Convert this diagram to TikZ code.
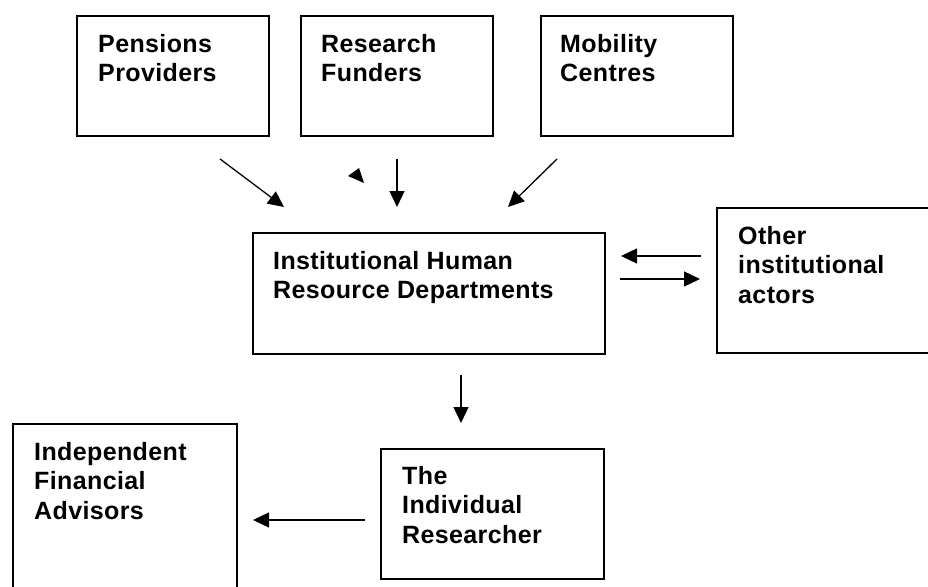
\documentclass[tikz,border=0pt]{standalone}
\usepackage{fontspec}
\setmainfont{Liberation Sans}
\newfontfamily\labelfont{Liberation Sans}[LetterSpace=1.5]
\usetikzlibrary{arrows.meta}
\begin{document}
\begin{tikzpicture}[x=1pt,y=-1pt,
  box/.style={draw, line width=1.6pt, inner sep=0pt, anchor=north west},
  lbl/.style={anchor=north west, inner sep=0pt, align=left,
              font=\labelfont\fontsize{25}{29.5}\selectfont\bfseries},
  link/.style={line width=1.3pt, -{Triangle[length=16pt,width=15pt]}}]
\path[use as bounding box, fill=white] (0,0) rectangle (928,586);
\clip (0,0) rectangle (928,586);

% top row of sources
\node[box, minimum width=192pt, minimum height=120pt] (pp) at (76,15) {};
\node[box, minimum width=192pt, minimum height=120pt] (rf) at (300,15) {};
\node[box, minimum width=192pt, minimum height=120pt] (mc) at (540,15) {};
\node[lbl] (ppt) at ([shift={(22,19)}]pp.north west) {Pensions\\Providers};
\node[lbl] (rft) at ([shift={(21,19)}]rf.north west) {Research\\Funders};
\node[lbl] (mct) at ([shift={(20,19)}]mc.north west) {Mobility\\Centres};

% central department and its partner
\node[box, minimum width=352pt, minimum height=121pt] (hr) at (252,232) {};
\node[lbl] (hrt) at ([shift={(21,19)}]hr.north west) {Institutional Human\\Resource Departments};
\node[box, minimum width=230pt, minimum height=145pt] (oa) at (716,207) {};
\node[lbl] (oat) at ([shift={(22,19)}]oa.north west) {Other\\institutional\\actors};

% bottom row
\node[box, minimum width=224pt, minimum height=180pt] (ifa) at (12,423) {};
\node[lbl] (ifat) at ([shift={(22,19)}]ifa.north west) {Independent\\Financial\\Advisors};
\node[box, minimum width=223pt, minimum height=130pt] (ir) at (380,448) {};
\node[lbl] (irt) at ([shift={(22,18)}]ir.north west) {The\\Individual\\Researcher};

% connector end points
\coordinate (ppout) at (220,159);  \coordinate (ppin) at (284,207);
\coordinate (rfout) at (397,159);  \coordinate (rfin) at (397,207);
\coordinate (mcout) at (557,159);  \coordinate (mcin) at (508,207);
\coordinate (oaout) at (701,256);  \coordinate (oain) at (621,256);
\coordinate (hrout) at (620,279);  \coordinate (hrin) at (700,279);
\coordinate (hrdown) at (461,375); \coordinate (irin) at (461,423);
\coordinate (irout) at (365,520);  \coordinate (ifain) at (253,520);

\draw[link] (ppout) -- (ppin);
\draw[link] (rfout) -- (rfin);
\draw[link] (mcout) -- (mcin);
\draw[link] (oaout) -- (oain);
\draw[link] (hrout) -- (hrin);
\draw[link] (hrdown) -- (irin);
\draw[link] (irout) -- (ifain);

% lone arrowhead above the department box
\fill (348,176) -- (359,168) -- (364,183) -- cycle;
\end{tikzpicture}
\end{document}
